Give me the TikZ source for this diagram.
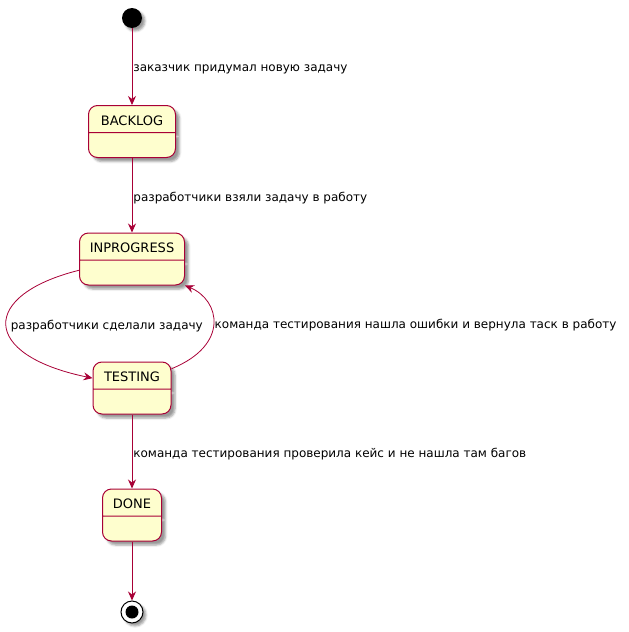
\documentclass[tikz,border=0pt]{standalone}
\usepackage{fontspec}
\setmainfont{DejaVu Sans}
\usepackage{xcolor}
\usetikzlibrary{positioning,shapes.multipart,arrows.meta,shadows.blur}
\definecolor{umlred}{HTML}{A80036}
\definecolor{umlfill}{HTML}{FEFECE}
\newcommand\toppart{\rule[-7pt]{0pt}{26pt}}
\newcommand\lowpart{\rule{0pt}{24pt}}

\begin{document}
\begin{tikzpicture}[
    x=1pt, y=-1pt,
    state/.style={
        rectangle split,
        rectangle split parts=2,
        draw=umlred,
        fill=umlfill,
        line width=1pt,
        rounded corners=9pt,
        inner xsep=0pt,
        inner ysep=0pt,
        font=\fontsize{13}{15}\selectfont,
        blur shadow={shadow xshift=4pt, shadow yshift=-4pt}
    },
    flow/.style={
        draw=umlred,
        line width=0.8pt,
        -{Stealth[length=9pt,width=8pt,inset=3pt]}
    },
    msg/.style={
        font=\fontsize{12}{14}\selectfont,
        inner sep=1pt,
        anchor=west,
        yshift=-3pt,
        text=black
    }
]
\useasboundingbox (0,0) rectangle (629,632);

% states
\node[circle, fill=black, minimum size=20pt, inner sep=0pt,
      blur shadow={shadow xshift=3pt, shadow yshift=-3pt}] (start) at (132,18) {};
\node[state, minimum width=87pt] (backlog) at (132,131.5) {\toppart BACKLOG \nodepart{two}\lowpart};
\node[state, minimum width=105pt] (inprogress) at (132,259) {\toppart INPROGRESS \nodepart{two}\lowpart};
\node[state, minimum width=78pt] (testing) at (132,388) {\toppart TESTING \nodepart{two}\lowpart};
\node[state, minimum width=59pt] (done) at (132,515) {\toppart DONE \nodepart{two}\lowpart};
\node[circle, draw=black, fill=white, line width=1pt, minimum size=22pt, inner sep=0pt,
      blur shadow={shadow xshift=3pt, shadow yshift=-3pt},
      path picture={\fill[black] (path picture bounding box.center) circle (6.5pt);}] (finish) at (132,612) {};

% transitions
\draw[flow] (start) -- node[msg] {заказчик придумал новую задачу} (backlog);
\draw[flow] (backlog) -- node[msg] {разработчики взяли задачу в работу} (inprogress);
\draw[flow] (inprogress.192) .. controls (-20,295) and (-20,355) ..
    node[msg, inner sep=4pt, yshift=2pt] {разработчики сделали задачу} (testing.166);
\draw[flow] (testing.26) .. controls (230,345) and (220,300) ..
    node[msg, yshift=2pt] {команда тестирования нашла ошибки и вернула таск в работу} (inprogress.south east);
\draw[flow] (testing) -- node[msg] {команда тестирования проверила кейс и не нашла там багов} (done);
\draw[flow] (done) -- (finish);
\end{tikzpicture}
\end{document}
